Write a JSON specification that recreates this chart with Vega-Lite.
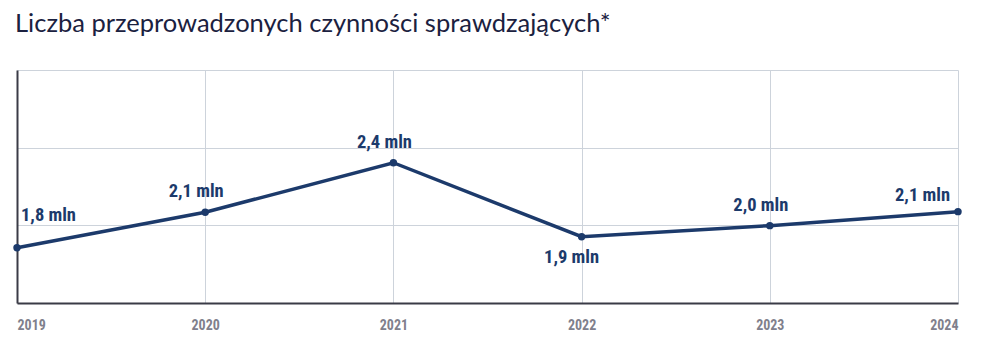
{
  "$schema": "https://vega.github.io/schema/vega-lite/v6.json",
  "width": 941,
  "height": 233,
  "autosize": "none",
  "padding": {"left": 17, "top": 70, "right": 24, "bottom": 49},
  "background": "white",
  "title": {
    "text": "Liczba przeprowadzonych czynności sprawdzających*",
    "anchor": "start",
    "frame": "group",
    "font": "Lato",
    "fontSize": 25.5,
    "fontWeight": "normal",
    "color": "#1b2140",
    "offset": 33,
    "dx": -2
  },
  "config": {
    "view": {"stroke": null},
    "axis": {"gridColor": "#cdd3db", "gridWidth": 1}
  },
  "data": {
    "values": [
      {"year": 2019, "value": 1.856, "label": "1,8 mln", "pos": "first"},
      {"year": 2020, "value": 2.084, "label": "2,1 mln", "pos": "mid"},
      {"year": 2021, "value": 2.403, "label": "2,4 mln", "pos": "mid"},
      {"year": 2022, "value": 1.927, "label": "1,9 mln", "pos": "below"},
      {"year": 2023, "value": 1.998, "label": "2,0 mln", "pos": "mid"},
      {"year": 2024, "value": 2.088, "label": "2,1 mln", "pos": "last"}
    ]
  },
  "encoding": {
    "x": {
      "field": "year",
      "type": "quantitative",
      "scale": {"domain": [2019, 2024], "nice": false, "zero": false},
      "axis": {
        "title": null,
        "values": [2019, 2020, 2021, 2022, 2023, 2024],
        "format": "d",
        "labelFlush": true,
        "ticks": false,
        "domainColor": "#3a3b46",
        "domainWidth": 2,
        "labelColor": "#80808c",
        "labelFont": "Roboto Condensed, DejaVu Sans Condensed, Roboto, sans-serif",
        "labelFontWeight": "bold",
        "labelFontSize": 14,
        "labelPadding": 15,
        "grid": true
      }
    },
    "y": {
      "field": "value",
      "type": "quantitative",
      "scale": {"domain": [1.5, 3], "nice": false, "zero": false},
      "axis": {
        "title": null,
        "values": [1.5, 2, 2.5, 3],
        "labels": false,
        "ticks": false,
        "domainColor": "#3a3b46",
        "domainWidth": 2,
        "grid": true
      }
    }
  },
  "layer": [
    {
      "mark": {"type": "line", "color": "#1c3a6b", "strokeWidth": 3.5}
    },
    {
      "mark": {"type": "circle", "color": "#1c3a6b", "opacity": 1, "size": 55}
    },
    {
      "transform": [{"filter": "datum.pos === 'mid'"}],
      "mark": {"type": "text", "color": "#1c3a6b", "font": "Roboto Condensed, DejaVu Sans Condensed, Roboto, sans-serif", "fontWeight": "bold", "fontSize": 18.5, "dy": -21, "dx": -9, "align": "center", "baseline": "middle"},
      "encoding": {"text": {"field": "label"}}
    },
    {
      "transform": [{"filter": "datum.pos === 'first'"}],
      "mark": {"type": "text", "color": "#1c3a6b", "font": "Roboto Condensed, DejaVu Sans Condensed, Roboto, sans-serif", "fontWeight": "bold", "fontSize": 18.5, "dy": -33, "dx": 4, "align": "left", "baseline": "middle"},
      "encoding": {"text": {"field": "label"}}
    },
    {
      "transform": [{"filter": "datum.pos === 'last'"}],
      "mark": {"type": "text", "color": "#1c3a6b", "font": "Roboto Condensed, DejaVu Sans Condensed, Roboto, sans-serif", "fontWeight": "bold", "fontSize": 18.5, "dy": -17, "dx": -8, "align": "right", "baseline": "middle"},
      "encoding": {"text": {"field": "label"}}
    },
    {
      "transform": [{"filter": "datum.pos === 'below'"}],
      "mark": {"type": "text", "color": "#1c3a6b", "font": "Roboto Condensed, DejaVu Sans Condensed, Roboto, sans-serif", "fontWeight": "bold", "fontSize": 18.5, "dy": 20, "dx": -10, "align": "center", "baseline": "middle"},
      "encoding": {"text": {"field": "label"}}
    }
  ]
}
